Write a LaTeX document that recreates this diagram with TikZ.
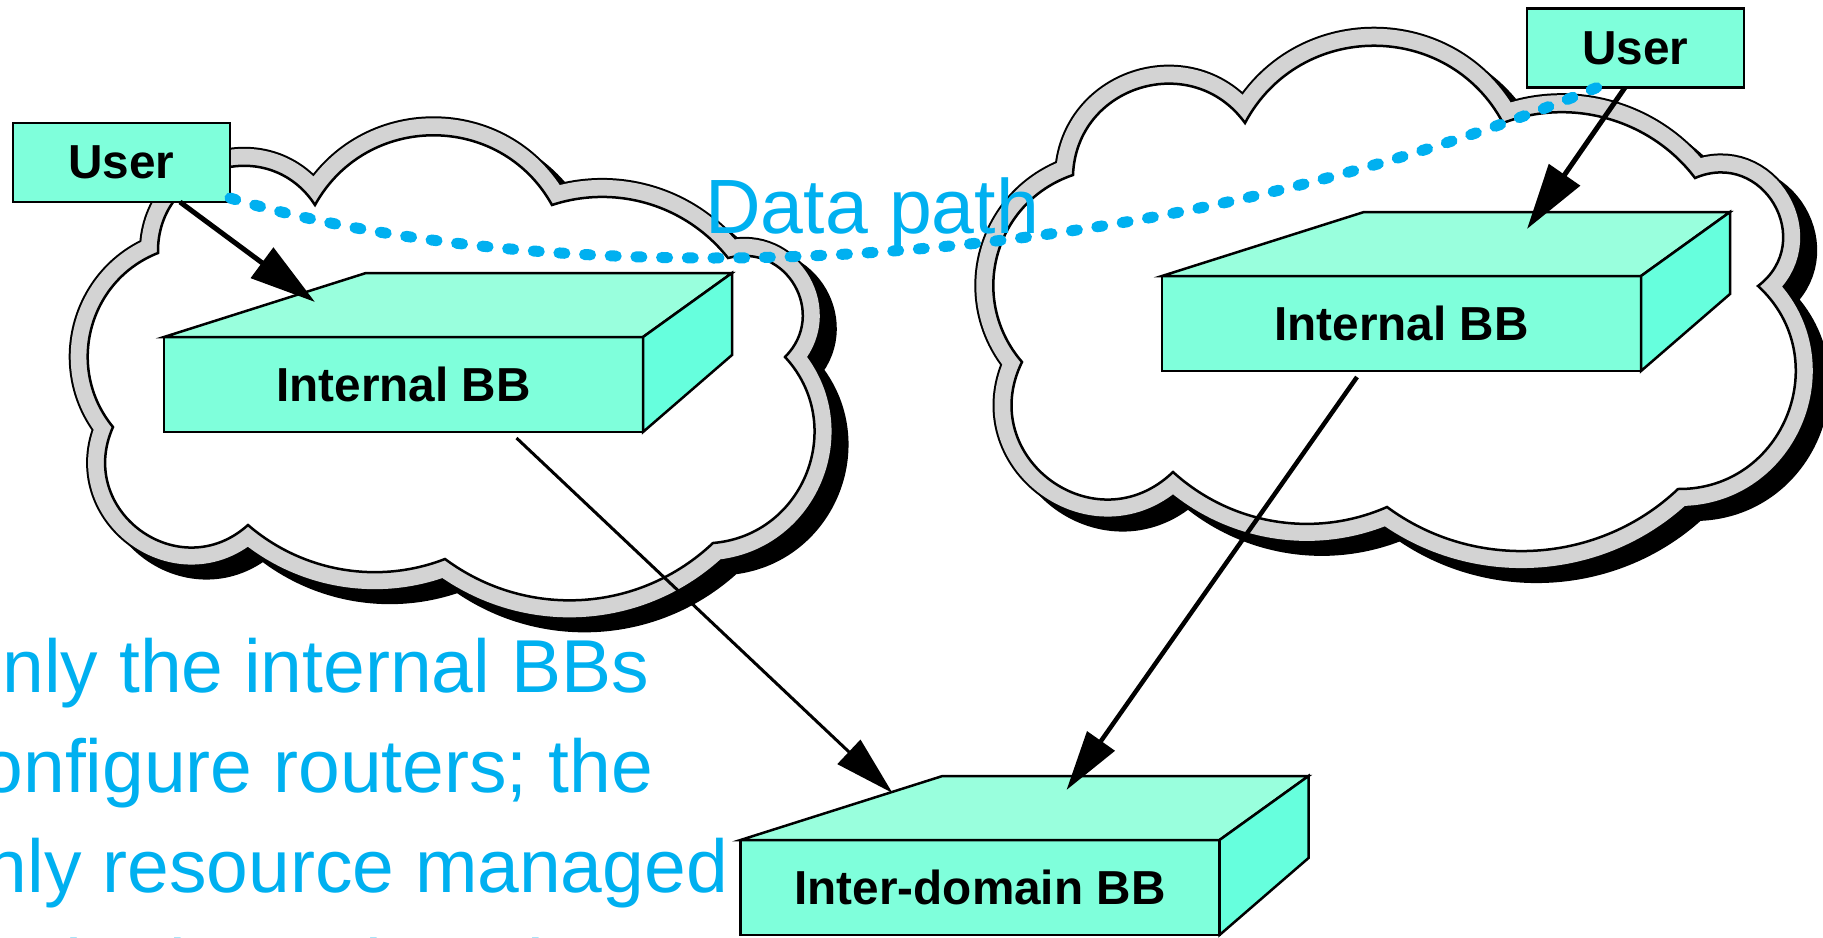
\documentclass[tikz,border=0pt]{standalone}
\usepackage{fontspec}
\setmainfont{Liberation Sans}
\usetikzlibrary{arrows.meta}
\definecolor{bbfront}{RGB}{127,255,219}
\definecolor{bbtop}{RGB}{153,255,221}
\definecolor{bbside}{RGB}{102,255,221}
\definecolor{cloudgray}{RGB}{211,211,211}
\definecolor{pathblue}{RGB}{0,176,240}
\newcommand{\labelfont}{\fontsize{47.7}{50}\selectfont\bfseries}
\tikzset{
  cloudband/.style={fill=white,
    preaction={draw=black, fill=black, line width=38pt, transform canvas={shift={(15,13)}}},
    preaction={draw=black, line width=38pt},
    preaction={draw=cloudgray, line width=34pt},
    postaction={draw=black, line width=2.5pt}},
  bbnode/.style={draw, line width=2.5pt, fill=bbfront, outer sep=0pt, minimum width=479pt, minimum height=95pt, font=\labelfont},
  usernode/.style={draw, line width=2.5pt, fill=bbfront, outer sep=0pt, minimum width=217pt, minimum height=79pt, font=\labelfont},
  userarrow/.style={-{Triangle[length=66pt,width=37pt]}, line width=5pt},
  bbarrow/.style={-{Triangle[length=60pt,width=33pt]}, line width=3pt},
  datapath/.style={pathblue, line width=11pt, line cap=round, dash pattern=on 6pt off 19.7pt},
  note/.style={anchor=base west, inner sep=0pt, text=pathblue, font=\fontsize{75}{90}\selectfont}
}
\begin{document}
\begin{tikzpicture}[x=1pt, y=-1pt]
\useasboundingbox (0,0) rectangle (1823,937);
\path[cloudband] (158,253) to[bend left=74, looseness=1.34] (315,205)
    to[bend left=61, looseness=1.15] (552,205)
    to[bend left=35, looseness=0.94] (728,258)
    to[bend left=75, looseness=1.36] (785,357)
    to[bend left=64, looseness=1.18] (713,543)
    to[bend left=40, looseness=0.97] (445,559)
    to[bend left=31, looseness=0.92] (248,525)
    to[bend left=78, looseness=1.41] (113,427)
    to[bend left=54, looseness=1.07] cycle;
\path[cloudband] (1073,175) to[bend left=71, looseness=1.28] (1245,123)
    to[bend left=62, looseness=1.16] (1503,123)
    to[bend left=37, looseness=0.94] (1695,178)
    to[bend left=83, looseness=1.51] (1758,286)
    to[bend left=69, looseness=1.25] (1678,489)
    to[bend left=40, looseness=0.96] (1387,507)
    to[bend left=33, looseness=0.93] (1173,472)
    to[bend left=80, looseness=1.46] (1022,362)
    to[bend left=56, looseness=1.10] cycle;

\node[bbnode] (bbL) at (403.5,384.5) {Internal BB};
\node[bbnode] (bbR) at (1401.5,323.5) {Internal BB};
\node[bbnode] (bbI) at (980,887.5) {Inter-domain BB};
\foreach \b in {bbL,bbR,bbI}
{
    \filldraw[fill=bbtop, line width=2.5pt] (\b.north west) -- ++(202,-64) -- ([shift={(89,-64)}]\b.north east) -- (\b.north east) -- cycle;
    \filldraw[fill=bbside, line width=2.5pt] (\b.north east) -- ++(89,-64) -- ++(0,82) -- (\b.south east) -- cycle;
}
\node[usernode] (userL) at (121.5,162.5) {User};
\node[usernode] (userR) at (1635.5,48) {User};

\draw[userarrow] ([xshift=58.5pt]userL.south) -- ([shift={(151,-35)}]bbL.north west);
\draw[userarrow] ([xshift=-10.5pt]userR.south) -- ([shift={(365,-47)}]bbR.north west);
\draw[bbarrow] ([shift={(113,6)}]bbL.south) -- ([shift={(152,-47)}]bbI.north west);
\draw[bbarrow, line width=4.5pt] ([shift={(-44.5,6)}]bbR.south) -- ([shift={(326,-50)}]bbI.north west);

\draw[datapath] ([yshift=4pt]userL.south east) .. controls (520,285) and (1080,300) .. ([xshift=70pt]userR.south west);
\node[anchor=base west, inner sep=0pt, text=pathblue, font=\fontsize{77}{80}\selectfont] (pathlabel) at (705,233) {Data path};

\foreach \t [count=\i] in {Only the internal BBs, configure routers; the, only resource managed, by the inter-domain BB}
    \node[note] (note\i) at (-56,592+100*\i) {\t};
\end{tikzpicture}
\end{document}
